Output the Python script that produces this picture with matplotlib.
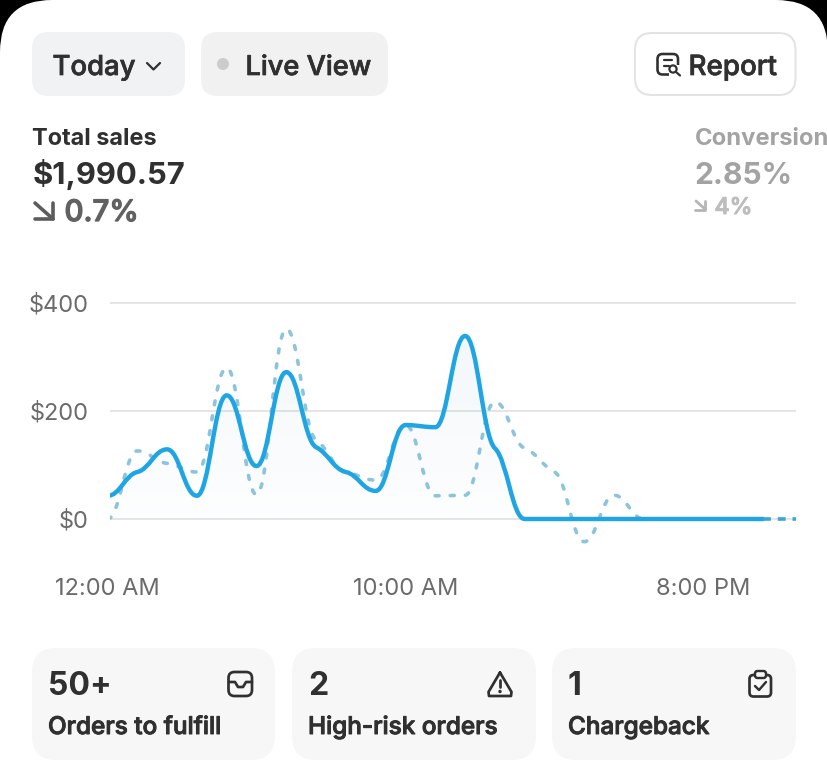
import numpy as np
import matplotlib
matplotlib.use("Agg")
import matplotlib.pyplot as plt
import matplotlib.patheffects as pe
from matplotlib.patches import FancyBboxPatch, PathPatch, Circle, Rectangle
from matplotlib.path import Path

plt.rcParams['font.family'] = ['Inter', 'DejaVu Sans']

# ---- data ----
hours = list(range(25))
current_sales = [43, 87, 129, 43, 229, 98, 272, 133, 87, 52, 174, 170, 339, 131, 0, 0, 0, 0, 0, 0, 0, 0, 0, 0, 0]
previous_sales = [0, 126, 103, 87, 280, 45, 352, 146, 87, 72, 174, 43, 44, 217, 131, 87, -42, 44, 0, 0, 0, 0, 0, 0, 0]
solid_until = 22
x_ticks = [0, 10, 20]
x_tick_labels = ["12:00 AM", "10:00 AM", "8:00 PM"]
y_ticks = [0, 200, 400]
y_tick_labels = ["$0", "$200", "$400"]
card_values = ["50+", "2", "1"]
card_labels = ["Orders to fulfill", "High-risk orders", "Chargeback"]

W, H = 828, 771
DARK = "#303030"
BLUE = "#1fa5e3"
PREV = "#8cc4de"
fig = plt.figure(figsize=(W / 100, H / 100), dpi=100, facecolor="black")


def px(v):
    return v * 0.72


# ---- page chrome in pixel coordinates ----
bg = fig.add_axes([0, 0, 1, 1], zorder=0)
bg.set_xlim(0, W)
bg.set_ylim(H, 0)
bg.axis("off")


def box(x0, y0, x1, y1, r, fc, ec="none", lw=0):
    bg.add_patch(FancyBboxPatch((x0 + r, y0 + r), x1 - x0 - 2 * r, y1 - y0 - 2 * r,
                                boxstyle=f"round,pad={r},rounding_size={r}",
                                fc=fc, ec=ec, lw=px(lw), mutation_aspect=1))


def label(x, y, s, size, color=DARK, weight="medium", thick=0.0, **kw):
    t = bg.text(x, y, s, fontsize=px(size), color=color, fontweight=weight, va="baseline",
                ha=kw.pop("ha", "left"), **kw)
    if thick:
        t.set_path_effects([pe.withStroke(linewidth=thick, foreground=color)])
    return t


def stroke(xs, ys, color=DARK, lw=2.4):
    bg.plot(list(xs), list(ys), color=color, lw=px(lw), solid_capstyle="round", solid_joinstyle="round")


box(0, 0, W, H + 100, 52, "white")
box(32, 32, 185, 96, 17, "#f0f2f3")
box(201, 32, 388, 96, 17, "#f1f1f1")
box(635, 33, 795.5, 95, 17, "white", "#e3e3e3", 2)
label(52.5, 75, "Today", 27.5, thick=0.5)
stroke([147, 153.5, 160], [63, 69.5, 63], lw=2.2)
bg.add_patch(Circle((223, 64), 6, fc="#cccccc", ec="none"))
label(245.5, 75, "Live View", 27.2, thick=0.5)
label(688.5, 75, "Report", 27.8, thick=0.5)
# report icon
box(657.5, 54, 678, 74.5, 5, "white", DARK, 2.6)
stroke([664, 672], [60, 60], lw=2.2)
stroke([664, 669], [66, 66], lw=2.2)
bg.add_patch(Rectangle((669, 65), 12, 12, fc="white", ec="none"))
bg.add_patch(Circle((673, 69), 3.6, fc="white", ec=DARK, lw=px(2.2)))
stroke([676, 680], [72, 75.5], lw=2.2)

label(32.5, 145, "Total sales", 23.5, weight="bold")
label(32.5, 184, "$1,990.57", 31, weight="bold")
stroke([35, 53], [203, 219], color="#5c5c5c", lw=3.6)
stroke([35, 53, 53], [219, 219, 203], color="#5c5c5c", lw=3.6)
label(64.5, 221, "0.7%", 29.5, color="#616161", thick=0.9)
label(694.5, 145, "Conversion", 23.8, color="#a3a3a3", weight="bold")
label(694.5, 184, "2.85%", 30, color="#a3a3a3", weight="bold")
stroke([696, 705], [201, 209], color="#b5b5b5", lw=2.8)
stroke([695, 705, 705], [210, 210, 201], color="#b5b5b5", lw=2.8)
label(714.5, 214, "4%", 23, color="#bdbdbd", thick=0.7)

# cards
cards = [(32, 275), (292, 536), (552, 796)]
for (x0, x1), v, t in zip(cards, card_values, card_labels):
    box(x0, 648, x1, 760, 24, "#f7f7f7")
    label(x0 + 16, 695, v, 32, weight="bold")
    label(x0 + 16, 734, t, 24.3, thick=0.7)

# inbox icon
box(228.5, 672, 252, 696, 6, "#f7f7f7", DARK, 2.7)
stroke([229, 235, 238, 243, 246, 252], [682, 682, 687, 687, 682, 682], lw=2.7)
# warning icon
stroke([500, 488.5, 489, 511, 511.5, 500], [672.5, 692, 696, 696, 692, 672.5], lw=2.7)
stroke([500, 500], [680, 687], lw=2.7)
bg.add_patch(Circle((500, 691.5), 1.7, fc=DARK, ec="none"))
# clipboard icon
box(749.5, 675, 771, 696.5, 4, "#f7f7f7", DARK, 2.7)
box(755, 671, 766, 678, 2.5, "#f7f7f7", DARK, 2.4)
stroke([755, 759, 766], [686, 690, 682], lw=2.4)

# ---- chart ----
top_px, bot_px = 295, 560
left_px, right_px = 107.5, 796
px_per_hour = 29.8
y_per_px = 200 / 108
ax = fig.add_axes([left_px / W, 1 - bot_px / H, (right_px - left_px) / W, (bot_px - top_px) / H], zorder=1)
ax.patch.set_alpha(0)
xlim = (0, (right_px - left_px) / px_per_hour)
ylim = (-(bot_px - 519) * y_per_px, (519 - top_px) * y_per_px)
ax.set_xlim(*xlim)
ax.set_ylim(*ylim)
for s in ax.spines.values():
    s.set_visible(False)
ax.set_yticks(y_ticks, y_tick_labels)
ax.set_xticks(x_ticks, x_tick_labels)
ax.tick_params(length=0, labelcolor="#6b6b6b", labelsize=px(23.6))
ax.tick_params(axis="y", pad=px(18.5))
ax.tick_params(axis="x", pad=px(18))
ax.grid(False)
line_start = (110 - left_px) / px_per_hour
ax.hlines(y_ticks, line_start, xlim[1], color="#e5e5e5", lw=px(2), zorder=1)

# marks start at the plot's visible left edge
clip = Rectangle((110, 0), right_px - 110, H, transform=bg.transData)


def monotone_path(xs, ys, shoulder=0.3):
    """Monotone cubic with soft shoulders through the values, as a Bezier path."""
    xs, ys = np.asarray(xs, float), np.asarray(ys, float)
    s = np.diff(ys) / np.diff(xs)
    m = np.zeros_like(ys)
    for i in range(1, len(ys) - 1):
        m[i] = (np.sign(s[i - 1]) + np.sign(s[i])) * min(abs(s[i - 1]), abs(s[i]),
                                                          0.25 * abs(s[i - 1] + s[i])) * shoulder
    verts, codes = [(xs[0], ys[0])], [Path.MOVETO]
    for i in range(len(xs) - 1):
        d = (xs[i + 1] - xs[i]) * 0.42
        verts += [(xs[i] + d, ys[i] + m[i] * d), (xs[i + 1] - d, ys[i + 1] - m[i + 1] * d), (xs[i + 1], ys[i + 1])]
        codes += [Path.CURVE4] * 3
    return Path(verts, codes)


cut = solid_until + 1
cur = monotone_path(hours[:cut], current_sales[:cut])

# soft gradient under the current line
fill_verts = list(cur.vertices) + [(hours[cut - 1], 0), (0, 0), (0, current_sales[0])]
fill_codes = list(cur.codes) + [Path.LINETO, Path.LINETO, Path.CLOSEPOLY]
fill = PathPatch(Path(fill_verts, fill_codes), transform=ax.transData, fc="none", ec="none")
ax.add_patch(fill)
grad = np.zeros((64, 2, 4))
grad[..., :3] = matplotlib.colors.to_rgb("#6d9fc0")
grad[..., 3] = np.linspace(0.08, 0.015, 64)[:, None]
img = ax.imshow(grad, extent=(0, 24, 0, 345), origin="upper", aspect="auto", zorder=1.5,
                interpolation="bilinear")
img.set_clip_path(fill)
ax.set_xlim(*xlim)
ax.set_ylim(*ylim)

prev = PathPatch(monotone_path(hours[:solid_until], previous_sales[:solid_until]), fc="none", ec=PREV, lw=px(3.6),
                 linestyle=(0, (1.1, 3.1)), capstyle="round", zorder=2)
ax.add_patch(prev)
prev.set_clip_path(clip)
solid = PathPatch(cur, fc="none", ec=BLUE, lw=px(4.4), capstyle="round", joinstyle="round", zorder=3)
ax.add_patch(solid)
solid.set_clip_path(clip)
tail, = ax.plot(hours[solid_until:], current_sales[solid_until:], color="#3aa6d8", lw=px(3.6),
                linestyle=(0, (2.2, 1.9)), zorder=3)
tail.set_clip_path(clip)

fig.savefig("out.png", dpi=100, facecolor=fig.get_facecolor())
